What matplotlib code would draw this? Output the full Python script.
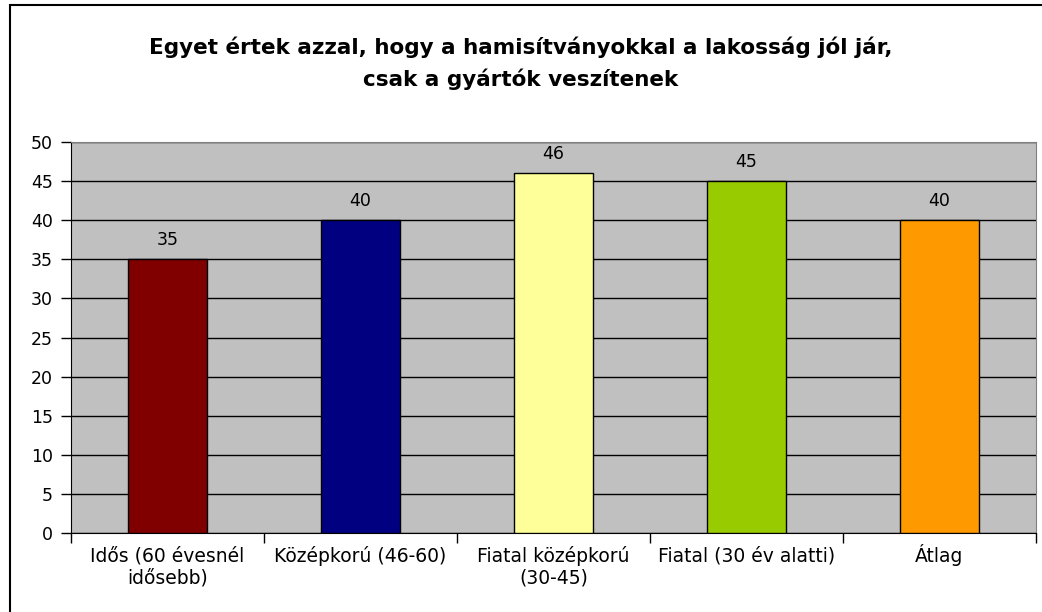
import matplotlib
matplotlib.use("Agg")
import matplotlib.pyplot as plt
from matplotlib.patches import Rectangle
from matplotlib.transforms import offset_copy

plt.rcParams['font.family'] = ['DejaVu Sans']

# survey result by age group
categories = ["Idős (60 évesnél\nidősebb)", "Középkorú (46-60)",
              "Fiatal középkorú\n(30-45)", "Fiatal (30 év alatti)", "Átlag"]
values = [35, 40, 46, 45, 40]
colors = ["#800000", "#000080", "#FFFF99", "#99CC00", "#FF9900"]

title = ("Egyet értek azzal, hogy a hamisítványokkal a lakosság jól jár,\n"
         "csak a gyártók veszítenek")

fig = plt.figure(figsize=(10.42, 6.12), dpi=100)
ax = fig.add_axes([71/1042, 1-533/612, (1036-71)/1042, (533-142)/612])
ax.set_facecolor("#C0C0C0")

x = range(len(categories))
ax.bar(x, values, width=0.41, color=colors, edgecolor="black", linewidth=1, zorder=3)
for i, v in enumerate(values):
    ax.text(i, v + 1.3, str(v), ha="center", va="bottom", fontsize=12.5, zorder=4)

ax.set_xlim(-0.5, len(categories) - 0.5)
ax.set_ylim(0, 50)
ax.set_yticks(range(0, 51, 5))
ax.yaxis.grid(True, color="black", linewidth=1, zorder=1)
ax.set_axisbelow(True)

# category labels drawn line by line on fixed baselines,
# so the accent on "Átlag" doesn't push it down
ax.set_xticks([i - 0.5 for i in range(len(categories) + 1)])
ax.set_xticklabels([])
ax.tick_params(axis="x", length=7, width=1, color="black")
for i, cat in enumerate(categories):
    for j, line in enumerate(cat.split("\n")):
        tr = offset_copy(ax.get_xaxis_transform(), fig=fig, y=-29 - 22 * j, units="dots")
        ax.text(i, 0, line, transform=tr, ha="center", va="baseline",
                fontsize=13.5, clip_on=False)
ax.tick_params(axis="y", labelsize=12.5, length=7, width=1, pad=6)

ax.spines["left"].set_color("black")
ax.spines["bottom"].set_color("black")
ax.spines["top"].set_color("#808080")
ax.spines["right"].set_color("#808080")

fig.text(0.5, 1 - 63/612, title, ha="center", va="center", fontsize=15.5,
         fontweight="bold", linespacing=1.6)

# outer chart border
fig.patches.append(Rectangle((10/1042, -0.1), 1.2, 1 - 5/612 + 0.1,
                             transform=fig.transFigure, fill=False,
                             edgecolor="black", linewidth=1.5))

fig.savefig("out.png", dpi=100)
